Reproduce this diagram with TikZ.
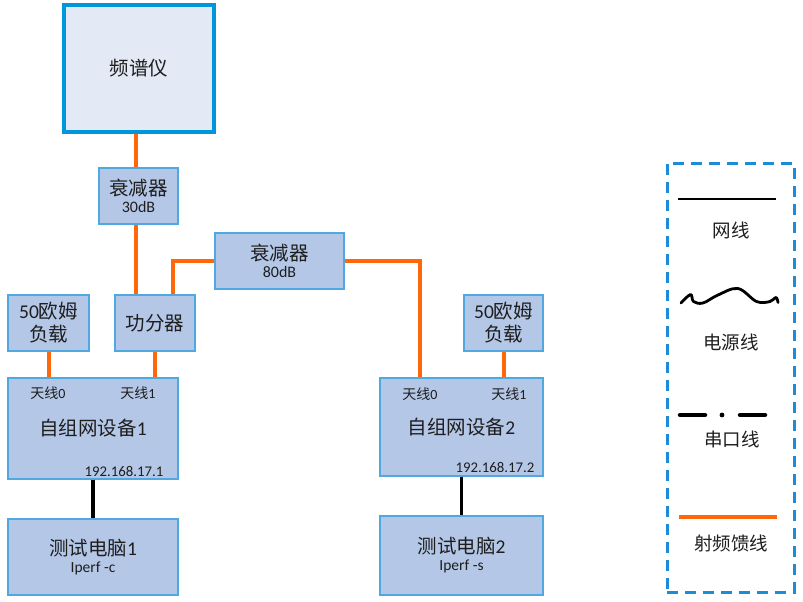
\documentclass[tikz,border=0pt]{standalone}
\usepackage{fontspec}
\setmainfont{Noto Sans CJK SC}
\newfontfamily\lat{Carlito}
\usetikzlibrary{calc}
\definecolor{boxfill}{RGB}{180,199,231}
\definecolor{boxline}{RGB}{80,168,225}
\definecolor{safill}{RGB}{227,234,245}
\definecolor{saline}{RGB}{0,150,220}
\definecolor{rfcol}{RGB}{255,104,10}
\definecolor{legline}{RGB}{28,140,216}
\definecolor{txt}{RGB}{30,30,30}
\newcommand{\bigf}{\fontsize{19.5}{23}\selectfont}
\newcommand{\smallf}{\fontsize{14}{16}\selectfont}
\newcommand{\subf}{\lat\fontsize{16}{18}\selectfont}
\newcommand{\pcf}{\lat\fontsize{15.5}{17}\selectfont}
\newcommand{\ipf}{\lat\fontsize{14.8}{16}\selectfont}
\begin{document}
\begin{tikzpicture}[x=1pt,y=-1pt,
  blk/.style={draw=boxline, fill=boxfill, line width=1.3pt, inner sep=0pt, align=center, text=txt, font=\bigf},
  sabox/.style={draw=saline, fill=safill, line width=3.8pt, inner sep=0pt, align=center, text=txt, font=\bigf},
  lbl/.style={inner sep=0pt, text=txt, font=\smallf},
  iplbl/.style={inner sep=0pt, text=txt, font=\ipf},
  leglbl/.style={inner sep=0pt, text=txt, font=\fontsize{18.5}{21}\selectfont},
  rf/.style={draw=rfcol, line width=4pt},
  net/.style={draw=black, line width=3.3pt}]
\useasboundingbox (0,0) rectangle (803,602);

% spectrum analyser
\node[sabox, minimum width=150pt, minimum height=127pt] (sa) at (139,68.5) {频谱仪};
% attenuators
\node[blk, minimum width=79pt, minimum height=56pt] (att30) at (138.5,196) {衰减器\\[-6pt]{\subf 30dB}};
\node[blk, minimum width=129pt, minimum height=56pt] (att80) at (279.5,261) {衰减器\\[-6pt]{\subf 80dB}};
% loads and splitter
\node[blk, minimum width=81pt, minimum height=56pt] (load1) at (48.5,323) {{\lat 50}欧姆\\负载};
\node[blk, minimum width=80pt, minimum height=56pt] (split) at (155,323) {功分器};
\node[blk, minimum width=79pt, minimum height=56pt] (load2) at (503.5,323) {{\lat 50}欧姆\\负载};
% devices
\node[blk, minimum width=170pt, minimum height=101pt] (dev1) at (93,428.5) {自组网设备{\lat 1}};
\node[blk, minimum width=163pt, minimum height=98pt] (dev2) at (461.5,427) {自组网设备{\lat 2}};
\node[lbl] (d1a0) at (48,393) {天线{\lat 0}};
\node[lbl] (d1a1) at (138,393) {天线{\lat 1}};
\node[iplbl] (d1ip) at (124,471) {192.168.17.1};
\node[lbl] (d2a0) at (420,394) {天线{\lat 0}};
\node[lbl] (d2a1) at (509,394) {天线{\lat 1}};
\node[iplbl] (d2ip) at (495,467) {192.168.17.2};
% PCs
\node[blk, minimum width=170pt, minimum height=76pt] (pc1) at (93,557) {测试电脑{\lat 1}\\[-6pt]{\pcf Iperf -c}};
\node[blk, minimum width=163pt, minimum height=79pt] (pc2) at (461.5,555.5) {测试电脑{\lat 2}\\[-6pt]{\pcf Iperf -s}};

% RF feed lines
\draw[rf] (sa.south -| 136,0) -- (att30.north -| 136,0);
\draw[rf] (att30.south -| 136,0) -- (split.north -| 136,0);
\draw[rf] (att80.west) -| (split.north -| 173,0);
\draw[rf] (att80.east) -| (dev2.north -| 420,0);
\draw[rf] (split.south) -- (split.south |- dev1.north);
\draw[rf] (load1.south) -- (load1.south |- dev1.north);
\draw[rf] (load2.south) -- (load2.south |- dev2.north);
% network lines
\draw[net] (dev1.south) -- (pc1.north);
\draw[net] (dev2.south) -- (pc2.north);

% legend
\node[draw=legline, line width=3pt, dash pattern=on 11pt off 7pt, minimum width=127pt, minimum height=429pt, inner sep=0pt] (legend) at (730.5,377.5) {};
\draw[black, line width=2.5pt] (678,199) -- (776,199);
\node[leglbl] (lnet) at (731,230) {网线};
\draw[black, line width=2.8pt, line cap=round, line join=round] plot[smooth, tension=0.6] coordinates {(681,303) (690.5,294.5) (693.5,301.5) (703,303) (718,295) (738,288.5) (756.5,301.5) (770,301.5) (776,297.5) (778,302.5)};
\node[leglbl] (lpow) at (731,342) {电源线};
\draw[black, line width=4.5pt, line cap=round] (680,415) -- (705,415);
\fill[black] (722,415) circle (2.4);
\draw[black, line width=4.5pt, line cap=round] (740,415) -- (765,415);
\node[leglbl] (lser) at (732,439) {串口线};
\draw[rfcol, line width=3.5pt] (679,517) -- (777,517);
\node[leglbl] (lrf) at (731,543) {射频馈线};
\end{tikzpicture}
\end{document}
